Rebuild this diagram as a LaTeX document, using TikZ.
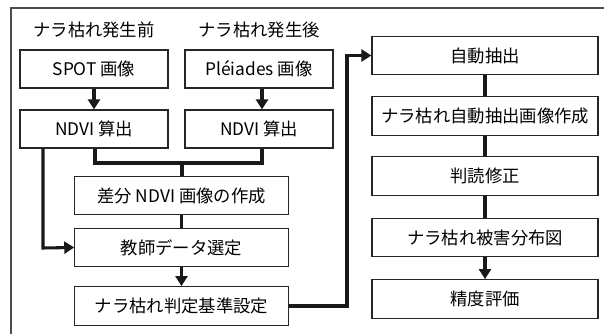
\documentclass[tikz,border=0pt]{standalone}
\usepackage{fontspec}
\setmainfont{Noto Sans CJK JP}
\usetikzlibrary{arrows.meta,calc}
\tikzset{
  box/.style={draw=black!85, line width=0.9pt, fill=white, inner sep=0pt, font=\fontsize{13}{15}\selectfont},
  lbox/.style={box, minimum width=111pt, minimum height=28.5pt},
  mbox/.style={box, minimum width=160pt, minimum height=29pt},
  rbox/.style={box, minimum width=169.5pt, minimum height=29pt},
  conn/.style={line width=2.3pt, black!90},
  arr/.style={conn, -{Triangle[length=7.5pt,width=9pt]}},
  head/.style={font=\fontsize{13}{15}\selectfont, inner sep=0pt},
  frame/.style={line width=1pt, black!70}
}
\begin{document}
\begin{tikzpicture}[x=0.75pt,y=-0.75pt]
\clip (0,0) rectangle (604,334);
\useasboundingbox (0,0) rectangle (604,334);
\fill[white] (0,0) rectangle (604,334);
\coordinate (fbl) at (11,340);
\coordinate (ftl) at (11,8);
\coordinate (ftr) at (610,8);
\draw[frame] (fbl) -- (ftl) -- (ftr);

\node[head] (hpre) at (94,30) {ナラ枯れ発生前};
\node[head] (hpost) at (259,30) {ナラ枯れ発生後};

\node[lbox] (spot) at (94,69) {SPOT 画像};
\node[lbox] (plei) at (259,69) {Pléiades 画像};
\node[lbox] (ndvil) at (94,129) {NDVI 算出};
\node[lbox] (ndvir) at (259,129) {NDVI 算出};

\node[mbox] (sabun) at (181.5,195.5) {差分 NDVI 画像の作成};
\node[mbox] (kyoshi) at (181.5,247.5) {教師データ選定};
\node[mbox] (hantei) at (181.5,306) {ナラ枯れ判定基準設定};

\node[rbox] (jido) at (485,55.5) {自動抽出};
\node[rbox] (sakusei) at (485,116) {ナラ枯れ自動抽出画像作成};
\node[rbox] (handoku) at (485,176) {判読修正};
\node[rbox] (higai) at (485,237.5) {ナラ枯れ被害分布図};
\node[rbox] (seido) at (485,299) {精度評価};

\draw[arr] (spot) -- (ndvil);
\draw[arr] (plei.south -| 262,0) -- (ndvir.north -| 262,0);

\coordinate (mL) at (95,163);
\coordinate (mR) at (262,163);
\coordinate (mC) at (182,163);
\draw[conn] (ndvil.south -| mL) -- (mL) -- (mR) -- (ndvir.south -| mR);
\draw[conn] (mC) -- (sabun.north -| mC);

\coordinate (lL) at (43,248);
\draw[arr] (ndvil.south -| lL) -- (lL) -- (kyoshi.west);

\draw[conn] (sabun) -- (kyoshi);
\draw[arr] (kyoshi) -- (hantei);

\coordinate (rb) at (347,306);
\coordinate (rt) at (347,55.5);
\draw[arr] (hantei.east) -- (rb) -- (rt) -- (jido.west);

\draw[conn] (jido) -- (sakusei);
\draw[conn] (sakusei) -- (handoku);
\draw[conn] (handoku) -- (higai);
\draw[arr] (higai) -- (seido);
\end{tikzpicture}
\end{document}
